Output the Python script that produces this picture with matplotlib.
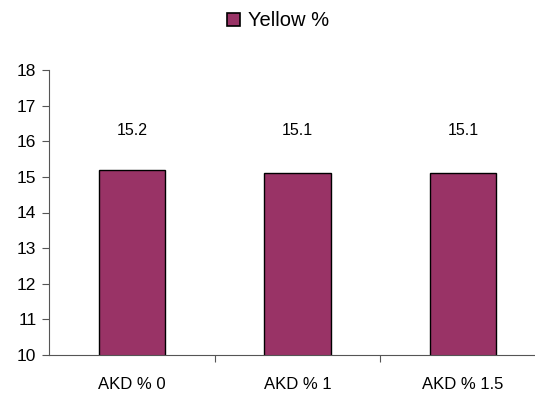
import matplotlib
matplotlib.use("Agg")
import matplotlib.pyplot as plt
from matplotlib import font_manager as fm
from matplotlib.patches import Patch

names = {f.name for f in fm.fontManager.ttflist}
fam = ["Liberation Sans Narrow", "DejaVu Sans"] if "Liberation Sans Narrow" in names else ["Liberation Sans", "DejaVu Sans"]
plt.rcParams['font.family'] = fam

categories = ["AKD % 0", "AKD % 1", "AKD % 1.5"]
values = [15.2, 15.1, 15.1]
series_name = "Yellow %"
yticks = [10, 11, 12, 13, 14, 15, 16, 17, 18]

W, H = 535, 409
fig = plt.figure(figsize=(W / 100, H / 100), dpi=100)
ax = fig.add_axes([49 / W, 54 / H, 497 / W, 285 / H])

x = list(range(len(categories)))
bars = ax.bar(x, values, width=0.4, color="#993366", edgecolor="black", linewidth=1.0, label=series_name)
for xi, v in zip(x, values):
    ax.text(xi, 16.3, f"{v}", ha="center", va="center", fontsize=11.5, color="black")

ax.set_xlim(-0.5, len(categories) - 0.5)
ax.set_ylim(10, 18)
ax.set_yticks(yticks)
ax.set_yticklabels([str(t) for t in yticks], fontsize=12.5)
ax.set_xticks([i + 0.5 for i in range(len(categories) - 1)])
ax.set_xticklabels([])
ax.set_xticks(x, minor=True)
ax.set_xticklabels(categories, minor=True, fontsize=12)
ax.tick_params(axis="x", which="minor", length=0, pad=16)
ax.tick_params(axis="x", which="major", length=5, direction="out", color="#555555")
ax.tick_params(axis="y", length=5, direction="out", pad=4, color="#555555")
for s in ["top", "right"]:
    ax.spines[s].set_visible(False)
ax.spines["left"].set_color("#555555")
ax.spines["bottom"].set_color("#555555")

handle = Patch(facecolor="#993366", edgecolor="black", linewidth=1.2)
fig.legend([handle], [series_name], loc="center", bbox_to_anchor=(278 / W, 1 - 21 / H),
           frameon=False, fontsize=14.5, handlelength=0.65, handleheight=0.65, handletextpad=0.35)

fig.savefig("out.png", dpi=100)
